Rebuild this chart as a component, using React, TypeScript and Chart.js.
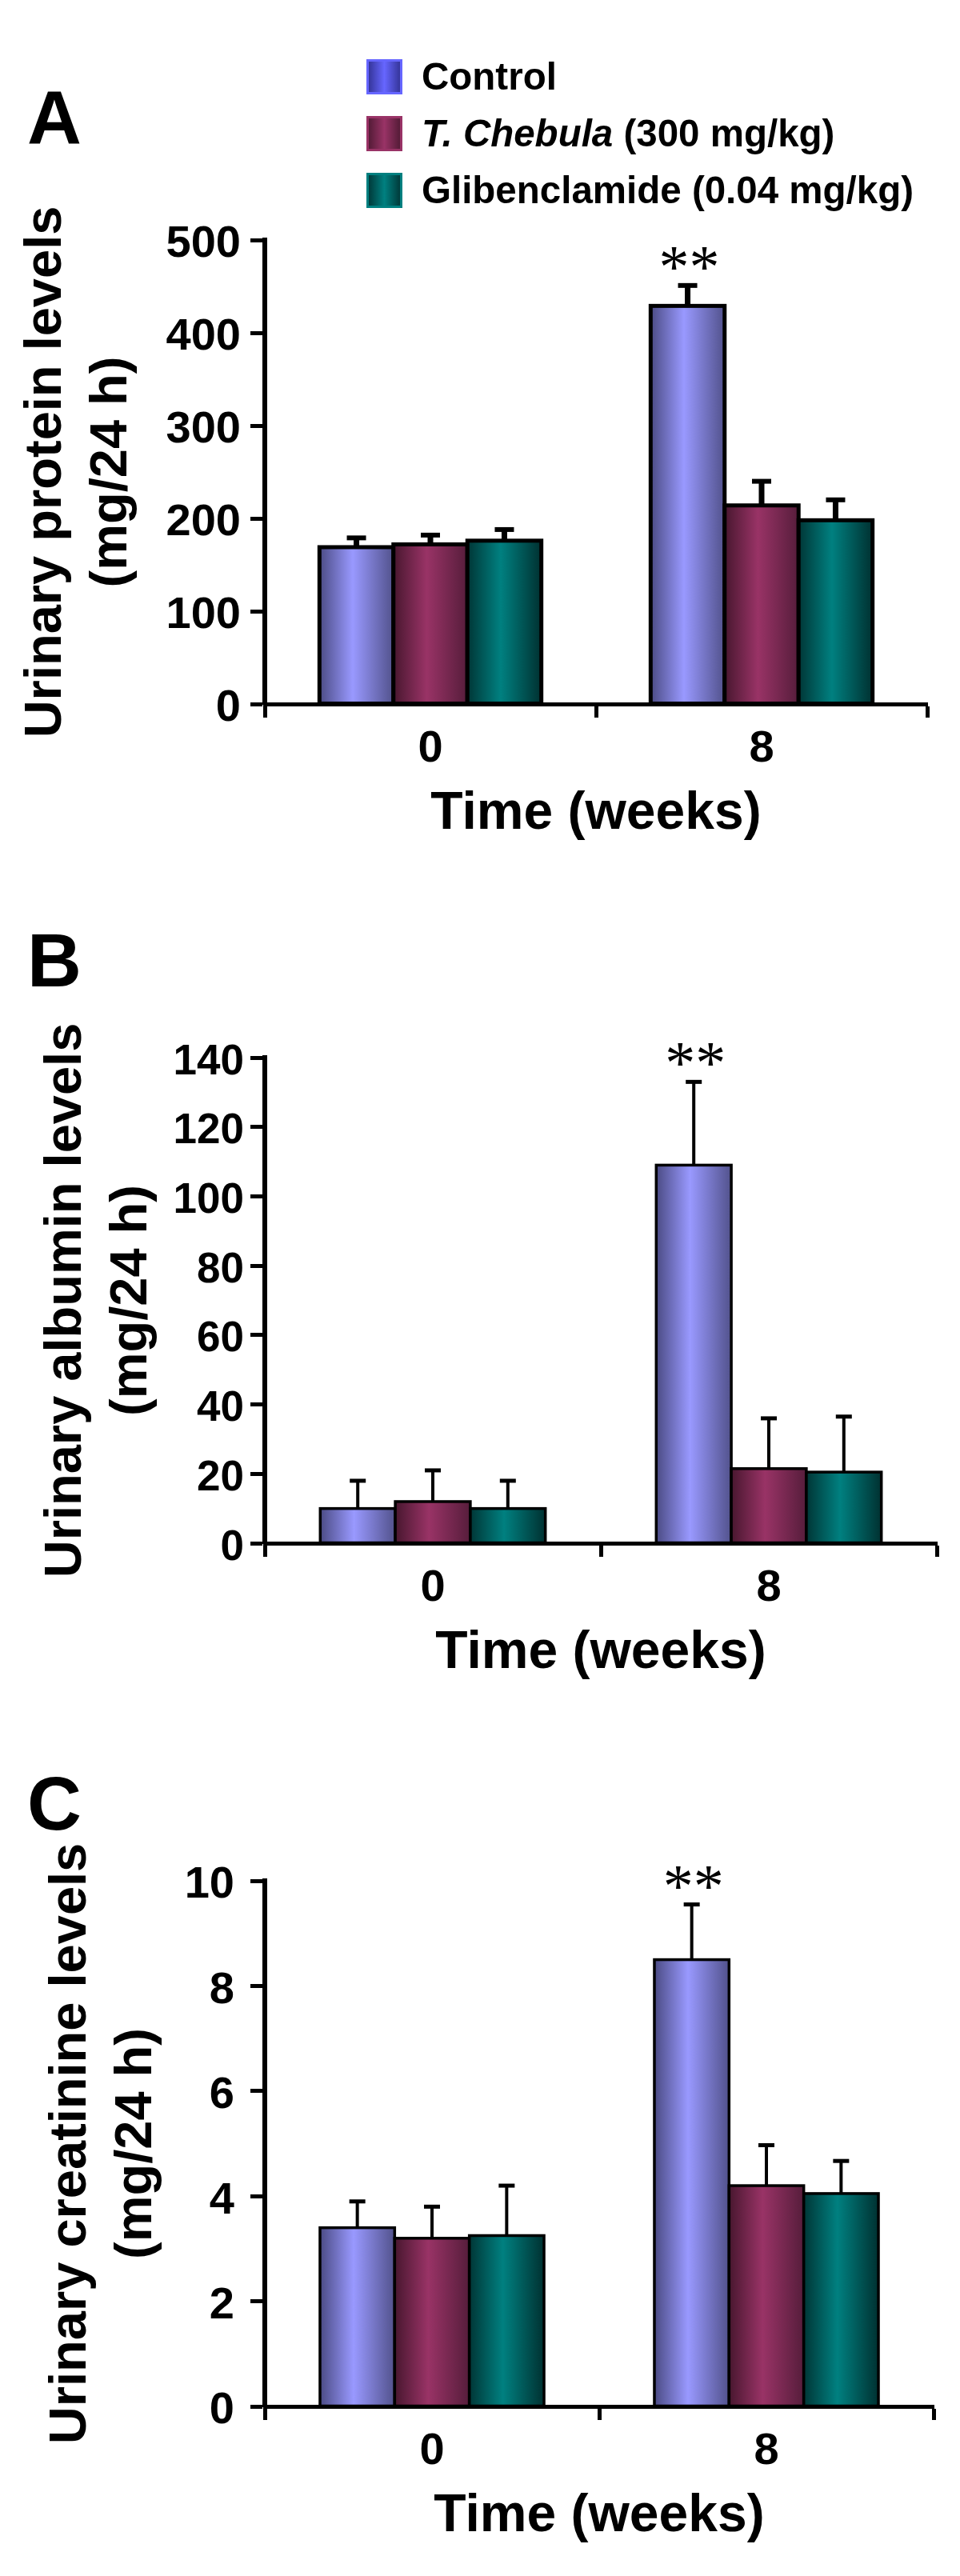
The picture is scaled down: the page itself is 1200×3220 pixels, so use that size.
import React, { useEffect, useRef } from 'react';
import { Chart, registerables } from 'chart.js';

Chart.register(...registerables);

// ---------- data ----------
const categories = ['0', '8'];
const xTitle = 'Time (weeks)';
const seriesItalic = ['', 'T. Chebula', ''];
const seriesRest = ['Control', ' (300 mg/kg)', 'Glibenclamide (0.04 mg/kg)'];

// Panel A: urinary protein (mg/24 h)
const proteinControl = [169, 429];
const proteinChebula = [172, 214];
const proteinGliben = [176, 198];
const proteinControlErr = [10, 22];
const proteinChebulaErr = [10, 26];
const proteinGlibenErr = [12, 22];
const proteinMarks = ['', '**'];
const proteinTitle = ['Urinary protein levels', '(mg/24 h)'];

// Panel B: urinary albumin (mg/24 h)
const albuminControl = [10, 109];
const albuminChebula = [12, 21.5];
const albuminGliben = [10, 20.5];
const albuminControlErr = [8, 24];
const albuminChebulaErr = [9, 14.5];
const albuminGlibenErr = [8, 16];
const albuminMarks = ['', '**'];
const albuminTitle = ['Urinary albumin levels', '(mg/24 h)'];

// Panel C: urinary creatinine (mg/24 h)
const creatControl = [3.4, 8.5];
const creatChebula = [3.2, 4.2];
const creatGliben = [3.25, 4.05];
const creatControlErr = [0.5, 1.05];
const creatChebulaErr = [0.6, 0.77];
const creatGlibenErr = [0.95, 0.62];
const creatMarks = ['', '**'];
const creatTitle = ['Urinary creatinine levels', '(mg/24 h)'];

// ---------- styles ----------
const FONT = '"Liberation Sans", Arial, Helvetica, sans-serif';
const SERIF = '"Liberation Serif", "Times New Roman", serif';
const BAR_GRAD = [
  ['#4b4b84', '#9999ff', '#52528c'],
  ['#48172f', '#993366', '#561d3b'],
  ['#003636', '#008080', '#003131'],
];
const SWATCH_GRAD = [
  ['#2e2e8c', '#6666ff', '#2e2e8c'],
  ['#4a1830', '#993366', '#4a1830'],
  ['#003030', '#008080', '#003030'],
];
const SWATCH_BORDER = ['#6666ff', '#993366', '#008080'];

type PanelSpec = {
  letter: string;
  letterBaseline: number;
  canvasH: number;
  chartTop: number;
  chartBottom: number;
  chartRight: number;
  max: number;
  step: number;
  values: number[][];
  errors: number[][];
  marks: string[];
  yTitle: string[];
  yTitlePad: number;
  yTickSize: number;
  yTickPad: number;
  barBorder: number;
  errStem: number;
  errCap: number;
  errCapW: number;
  legend: boolean;
};

const panels: PanelSpec[] = [
  {
    letter: 'A', letterBaseline: 180, canvasH: 1075, chartTop: 300, chartBottom: 880, chartRight: 1159,
    max: 500, step: 100,
    values: [proteinControl, proteinChebula, proteinGliben],
    errors: [proteinControlErr, proteinChebulaErr, proteinGlibenErr],
    marks: proteinMarks, yTitle: proteinTitle, yTitlePad: 17, yTickSize: 56, yTickPad: 12,
    barBorder: 5, errStem: 7, errCap: 6, errCapW: 24, legend: true,
  },
  {
    letter: 'B', letterBaseline: 158, canvasH: 1075, chartTop: 247, chartBottom: 854, chartRight: 1171,
    max: 140, step: 20,
    values: [albuminControl, albuminChebula, albuminGliben],
    errors: [albuminControlErr, albuminChebulaErr, albuminGlibenErr],
    marks: albuminMarks, yTitle: albuminTitle, yTitlePad: 42, yTickSize: 53, yTickPad: 8,
    barBorder: 3.5, errStem: 4, errCap: 5, errCapW: 20, legend: false,
  },
  {
    letter: 'C', letterBaseline: 137, canvasH: 1070, chartTop: 201, chartBottom: 858, chartRight: 1167,
    max: 10, step: 2,
    values: [creatControl, creatChebula, creatGliben],
    errors: [creatControlErr, creatChebulaErr, creatGlibenErr],
    marks: creatMarks, yTitle: creatTitle, yTitlePad: 48, yTickSize: 56, yTickPad: 20,
    barBorder: 3.5, errStem: 4, errCap: 5, errCapW: 20, legend: false,
  },
];

function makeDecor(p: PanelSpec) {
  return {
    id: 'decor' + p.letter,
    afterDatasetsDraw(chart: any) {
      const ctx = chart.ctx as CanvasRenderingContext2D;
      const yScale = chart.scales.y;
      ctx.save();
      // gradient bars over library-positioned elements
      chart.data.datasets.forEach((_ds: any, di: number) => {
        const meta = chart.getDatasetMeta(di);
        meta.data.forEach((el: any) => {
          const { x, y, base, width } = el.getProps(['x', 'y', 'base', 'width'], true);
          const left = x - width / 2;
          const g = ctx.createLinearGradient(left, 0, left + width, 0);
          const s = BAR_GRAD[di];
          g.addColorStop(0, s[0]);
          g.addColorStop(0.45, s[1]);
          g.addColorStop(1, s[2]);
          ctx.fillStyle = g;
          ctx.fillRect(left, y, width, base - y);
          ctx.lineWidth = p.barBorder;
          ctx.strokeStyle = '#000';
          ctx.strokeRect(left, y, width, base - y);
        });
      });
      // error bars and significance marks
      chart.data.datasets.forEach((_ds: any, di: number) => {
        const meta = chart.getDatasetMeta(di);
        meta.data.forEach((el: any, i: number) => {
          const { x, y } = el.getProps(['x', 'y'], true);
          const v = p.values[di][i];
          const top = yScale.getPixelForValue(v + p.errors[di][i]);
          ctx.fillStyle = '#000';
          ctx.fillRect(x - p.errStem / 2, top, p.errStem, y - top);
          ctx.fillRect(x - p.errCapW / 2, top - p.errCap / 2, p.errCapW, p.errCap);
          if (di === 0 && p.marks[i]) {
            ctx.font = `76px ${SERIF}`;
            ctx.textAlign = 'center';
            ctx.textBaseline = 'alphabetic';
            ctx.fillText(p.marks[i], x + 2, top + 2);
          }
        });
      });
      ctx.restore();
    },
    afterDraw(chart: any) {
      const ctx = chart.ctx as CanvasRenderingContext2D;
      ctx.save();
      ctx.fillStyle = '#000';
      ctx.font = `bold 94px ${FONT}`;
      ctx.textAlign = 'left';
      ctx.textBaseline = 'alphabetic';
      ctx.fillText(p.letter, 34, p.letterBaseline);
      if (p.legend) {
        const rows = [96, 167, 238];
        chart.data.datasets.forEach((_ds: any, di: number) => {
          const cy = rows[di];
          const sx = 458, sw = 45, sh = 44;
          const g = ctx.createLinearGradient(sx, 0, sx + sw, 0);
          const s = SWATCH_GRAD[di];
          g.addColorStop(0, s[0]);
          g.addColorStop(0.5, s[1]);
          g.addColorStop(1, s[2]);
          ctx.fillStyle = g;
          ctx.fillRect(sx, cy - sh / 2, sw, sh);
          ctx.lineWidth = 3;
          ctx.strokeStyle = SWATCH_BORDER[di];
          ctx.strokeRect(sx + 1.5, cy - sh / 2 + 1.5, sw - 3, sh - 3);
          ctx.fillStyle = '#000';
          ctx.textBaseline = 'middle';
          let tx = 527;
          if (seriesItalic[di]) {
            ctx.font = `italic bold 47.5px ${FONT}`;
            ctx.fillText(seriesItalic[di], tx, cy + 3);
            tx += ctx.measureText(seriesItalic[di]).width;
          }
          ctx.font = `bold 47.5px ${FONT}`;
          ctx.fillText(seriesRest[di], tx, cy + 3);
        });
      }
      ctx.restore();
    },
  };
}

function Panel({ p }: { p: PanelSpec }) {
  const ref = useRef<HTMLCanvasElement | null>(null);
  useEffect(() => {
    if (!ref.current) return;
    const xTitleSize = 66;
    const xTitlePad = p.canvasH - (p.chartBottom + 138) - xTitleSize / 2;
    const chart = new Chart(ref.current, {
      type: 'bar',
      data: {
        labels: categories,
        datasets: p.values.map((vals, di) => ({
          label: seriesItalic[di] + seriesRest[di],
          data: vals,
          backgroundColor: BAR_GRAD[di][1],
          borderWidth: 0,
          barPercentage: 1,
          categoryPercentage: 0.67,
        })),
      },
      options: {
        responsive: false,
        maintainAspectRatio: false,
        animation: false,
        events: [],
        devicePixelRatio: 1,
        layout: { padding: { top: p.chartTop, right: 1200 - p.chartRight, left: 0, bottom: 0 } },
        plugins: { legend: { display: false }, tooltip: { enabled: false }, title: { display: false } },
        scales: {
          x: {
            offset: true,
            grid: { offset: true, drawOnChartArea: false, drawTicks: true, tickLength: 17, tickWidth: 5, tickColor: '#000', color: '#000' },
            border: { display: true, color: '#000', width: 5 },
            ticks: { color: '#000', font: { family: FONT, size: 56, weight: 'bold', lineHeight: 1 }, padding: 12, maxRotation: 0 },
            title: {
              display: true, text: xTitle, color: '#000',
              font: { family: FONT, size: xTitleSize, weight: 'bold', lineHeight: 1 },
              padding: { top: 0, bottom: xTitlePad },
            },
            afterFit: (s: any) => { s.height = p.canvasH - p.chartBottom; },
          },
          y: {
            min: 0,
            max: p.max,
            ticks: { stepSize: p.step, color: '#000', font: { family: FONT, size: p.yTickSize, weight: 'bold', lineHeight: 1 }, padding: p.yTickPad, labelOffset: 6 },
            grid: { drawOnChartArea: false, drawTicks: true, tickLength: 18, tickWidth: 5, tickColor: '#000', color: '#000' },
            border: { display: true, color: '#000', width: 6 },
            title: {
              display: true, text: p.yTitle, color: '#000',
              font: { family: FONT, size: 65, weight: 'bold', lineHeight: 1.26 },
              padding: { top: p.yTitlePad, bottom: 0 },
            },
            afterFit: (s: any) => { s.width = 331; },
          },
        },
      } as any,
      plugins: [makeDecor(p)],
    });
    return () => chart.destroy();
  }, [p]);
  return <canvas ref={ref} width={1200} height={p.canvasH} style={{ display: 'block', width: 1200, height: p.canvasH }} />;
}

export default function App() {
  return (
    <div style={{ position: 'absolute', left: 0, top: 0, width: 1200, height: 3220, background: '#fff' }}>
      {panels.map((p) => (
        <Panel key={p.letter} p={p} />
      ))}
    </div>
  );
}
